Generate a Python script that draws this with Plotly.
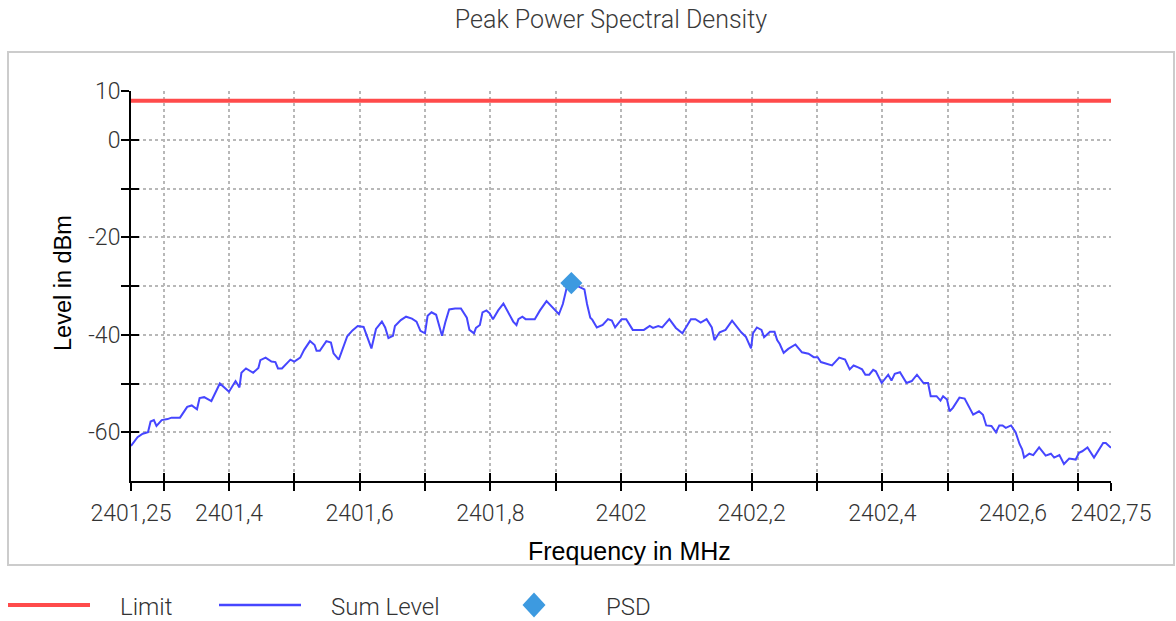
import plotly.graph_objects as go

# ---------------- data ----------------
sum_freq_mhz = [
    2401.250, 2401.260, 2401.268, 2401.276, 2401.280, 2401.285, 2401.289, 2401.297, 2401.306, 2401.312,
    2401.325, 2401.336, 2401.343, 2401.351, 2401.355, 2401.362, 2401.373, 2401.386, 2401.400, 2401.410,
    2401.416, 2401.419, 2401.426, 2401.437, 2401.445, 2401.448, 2401.456, 2401.465, 2401.471, 2401.475,
    2401.481, 2401.494, 2401.500, 2401.509, 2401.515, 2401.524, 2401.531, 2401.534, 2401.539, 2401.549,
    2401.556, 2401.560, 2401.568, 2401.575, 2401.581, 2401.589, 2401.597, 2401.606, 2401.611, 2401.618,
    2401.625, 2401.634, 2401.639, 2401.644, 2401.651, 2401.654, 2401.663, 2401.671, 2401.680, 2401.687,
    2401.693, 2401.700, 2401.704, 2401.710, 2401.717, 2401.726, 2401.731, 2401.737, 2401.746, 2401.755,
    2401.764, 2401.768, 2401.775, 2401.778, 2401.784, 2401.788, 2401.794, 2401.799, 2401.804, 2401.812,
    2401.820, 2401.829, 2401.835, 2401.840, 2401.843, 2401.849, 2401.854, 2401.868, 2401.876, 2401.886,
    2401.896, 2401.905, 2401.911, 2401.917, 2401.924, 2401.937, 2401.944, 2401.948, 2401.953, 2401.956,
    2401.963, 2401.972, 2401.980, 2401.986, 2401.991, 2402.001, 2402.008, 2402.018, 2402.035, 2402.044,
    2402.049, 2402.057, 2402.063, 2402.074, 2402.084, 2402.094, 2402.107, 2402.114, 2402.122, 2402.131,
    2402.139, 2402.143, 2402.151, 2402.160, 2402.170, 2402.184, 2402.191, 2402.199, 2402.202, 2402.208,
    2402.215, 2402.219, 2402.228, 2402.235, 2402.239, 2402.243, 2402.249, 2402.256, 2402.267, 2402.277,
    2402.287, 2402.295, 2402.301, 2402.306, 2402.323, 2402.334, 2402.343, 2402.350, 2402.356, 2402.363,
    2402.369, 2402.374, 2402.380, 2402.386, 2402.390, 2402.399, 2402.409, 2402.414, 2402.419, 2402.427,
    2402.437, 2402.445, 2402.453, 2402.463, 2402.470, 2402.474, 2402.483, 2402.489, 2402.493, 2402.499,
    2402.503, 2402.508, 2402.518, 2402.526, 2402.531, 2402.539, 2402.548, 2402.554, 2402.559, 2402.567,
    2402.574, 2402.579, 2402.584, 2402.589, 2402.597, 2402.604, 2402.610, 2402.614, 2402.617, 2402.625,
    2402.631, 2402.640, 2402.650, 2402.658, 2402.663, 2402.671, 2402.678, 2402.686, 2402.696, 2402.701,
    2402.706, 2402.714, 2402.724, 2402.731, 2402.738, 2402.742, 2402.750,
]
sum_level_dbm = [
    -62.8, -61.0, -60.3, -60.0, -57.8, -57.5, -58.7, -57.5, -57.3, -57.0,
    -57.0, -54.8, -54.5, -55.3, -53.0, -52.8, -53.6, -50.0, -51.7, -49.5,
    -50.8, -47.8, -46.9, -47.8, -46.8, -45.2, -44.7, -45.5, -45.6, -46.9,
    -46.9, -45.1, -45.5, -44.7, -43.1, -41.3, -42.1, -43.3, -43.3, -41.3,
    -41.6, -43.8, -45.1, -42.5, -40.3, -39.1, -38.2, -38.4, -40.2, -42.8,
    -38.8, -37.3, -38.5, -40.7, -40.2, -38.2, -37.0, -36.3, -36.7, -37.3,
    -39.2, -39.7, -36.1, -35.4, -35.9, -40.2, -37.5, -34.8, -34.6, -34.6,
    -36.5, -39.0, -39.7, -38.6, -38.0, -35.4, -35.0, -35.6, -36.8, -35.0,
    -33.6, -36.0, -37.3, -38.0, -36.8, -36.3, -36.8, -36.8, -35.0, -33.1,
    -34.6, -35.8, -33.7, -30.3, -29.4, -30.2, -30.7, -33.7, -36.5, -36.9,
    -38.5, -38.0, -36.8, -37.1, -38.5, -36.8, -36.8, -39.0, -39.0, -38.2,
    -38.6, -38.2, -38.5, -36.8, -38.6, -39.7, -36.8, -36.8, -37.5, -36.8,
    -38.5, -41.1, -39.5, -39.0, -37.1, -39.5, -40.4, -42.8, -39.7, -38.5,
    -39.0, -40.5, -39.4, -39.4, -41.1, -41.9, -43.7, -42.9, -42.0, -43.6,
    -43.9, -44.6, -44.6, -45.6, -46.3, -44.7, -45.1, -47.1, -46.3, -46.7,
    -47.1, -48.2, -48.2, -47.2, -47.5, -49.9, -48.2, -49.4, -48.0, -47.7,
    -49.9, -49.5, -48.2, -49.9, -49.9, -52.6, -52.6, -53.5, -52.6, -53.3,
    -55.7, -55.0, -52.9, -53.1, -54.3, -56.4, -55.7, -56.4, -58.6, -58.7,
    -60.0, -58.6, -58.6, -59.1, -58.6, -60.0, -62.4, -63.5, -65.2, -64.4,
    -64.7, -63.1, -64.8, -64.4, -65.2, -64.7, -66.5, -65.4, -65.6, -64.2,
    -63.9, -63.1, -65.2, -63.7, -62.2, -62.2, -63.2,
]
limit_freq_mhz = [2401.25, 2402.75]
limit_level_dbm = [8.0, 8.0]
psd_freq_mhz = [2401.924]
psd_level_dbm = [-29.4]

x_tickvals = [2401.25, 2401.3, 2401.4, 2401.5, 2401.6, 2401.7, 2401.8, 2401.9, 2402.0,
              2402.1, 2402.2, 2402.3, 2402.4, 2402.5, 2402.6, 2402.7, 2402.75]
x_ticktext = ["2401,25", "", "2401,4", "", "2401,6", "", "2401,8", "", "2402",
              "", "2402,2", "", "2402,4", "", "2402,6", "", "2402,75"]
y_tickvals = [-60, -50, -40, -30, -20, -10, 0, 10]
y_ticktext = ["-60", "", "-40", "", "-20", "", "0", "10"]
x_range = [2401.25, 2402.75]
y_range = [-70, 10]

# ---------------- layout geometry ----------------
W, H = 1176, 621
L, R, T, B = 131, 1111, 91, 481


def px(x):
    return (x - L) / (R - L)


def py(y):
    return (B - y) / (B - T)


RED = "#FF4B4B"
BLUE = "#4646FF"
DIAMOND = "#3D9AE0"
LIGHT = dict(family="Roboto", weight=300, size=23, color="#333333")
LEGEND_FONT = dict(family="Roboto", weight=300, size=24, color="#333333")

fig = go.Figure()

fig.add_trace(go.Scatter(
    x=sum_freq_mhz, y=sum_level_dbm, mode="lines", name="Sum Level",
    line=dict(color=BLUE, width=2), xaxis="x", yaxis="y"))
fig.add_trace(go.Scatter(
    x=psd_freq_mhz, y=psd_level_dbm, mode="markers", name="PSD",
    marker=dict(symbol="diamond", size=17, color=DIAMOND, line=dict(width=0)),
    xaxis="x", yaxis="y"))
fig.add_trace(go.Scatter(
    x=limit_freq_mhz, y=limit_level_dbm, mode="lines", name="Limit",
    line=dict(color=RED, width=4), xaxis="x2", yaxis="y2"))

axis_common = dict(showline=True, linecolor="black", linewidth=2,
                   ticks="outside", ticklen=8, tickwidth=2, tickcolor="black",
                   zeroline=False, showgrid=True, gridcolor="#b8b8b8",
                   gridwidth=2, griddash="dot", tickfont=LIGHT)

fig.update_layout(
    width=W, height=H,
    margin=dict(l=L, r=W - R, t=T, b=H - B, pad=0),
    paper_bgcolor="white", plot_bgcolor="white",
    showlegend=False,
    title=dict(text="Peak Power Spectral Density",
               font=dict(family="Roboto", weight=300, size=25, color="#3a3a3a"),
               x=611 / W, xref="container", xanchor="center",
               y=1 - 19 / H, yref="container", yanchor="middle"),
    xaxis=dict(range=x_range, tickmode="array", tickvals=x_tickvals, ticktext=x_ticktext,
               ticklabelstandoff=2, **axis_common),
    yaxis=dict(range=y_range, tickmode="array", tickvals=y_tickvals, ticktext=y_ticktext,
               ticklabelstandoff=-4, **axis_common),
    xaxis2=dict(range=x_range, overlaying="x", anchor="y2", side="bottom",
                tickmode="array", tickvals=x_tickvals, showticklabels=False,
                ticks="inside", ticklen=8, tickwidth=2, tickcolor="black",
                showgrid=False, zeroline=False, showline=False),
    yaxis2=dict(range=y_range, overlaying="y", anchor="x2", side="left",
                tickmode="array", tickvals=y_tickvals, showticklabels=False,
                ticks="inside", ticklen=8, tickwidth=2, tickcolor="black",
                showgrid=False, zeroline=False, showline=False),
)

shapes = [
    # outer frame
    dict(type="rect", xref="paper", yref="paper",
         x0=px(8), x1=px(1174), y0=py(565), y1=py(52),
         line=dict(color="#cccccc", width=2), layer="below"),
    # legend samples
    dict(type="line", xref="paper", yref="paper",
         x0=px(8), x1=px(90), y0=py(605), y1=py(605),
         line=dict(color=RED, width=4)),
    dict(type="line", xref="paper", yref="paper",
         x0=px(219), x1=px(301), y0=py(605), y1=py(605),
         line=dict(color=BLUE, width=2.5)),
    dict(type="path", xref="paper", yref="paper",
         xsizemode="pixel", ysizemode="pixel",
         xanchor=px(534), yanchor=py(605),
         path="M 0 12.5 L 11.5 0 L 0 -12.5 L -11.5 0 Z",
         fillcolor=DIAMOND, line=dict(width=0)),
]

annotations = [
    dict(text="Limit", x=px(118), y=py(607), xanchor="left", yanchor="middle"),
    dict(text="Sum Level", x=px(329), y=py(607), xanchor="left", yanchor="middle"),
    dict(text="PSD", x=px(604), y=py(607), xanchor="left", yanchor="middle"),
]
annotations = [dict(a, xref="paper", yref="paper", showarrow=False, font=LEGEND_FONT)
               for a in annotations]
annotations += [
    dict(text="Frequency in MHz", x=px(629), y=py(551), xref="paper", yref="paper",
         xanchor="center", yanchor="middle", showarrow=False,
         font=dict(family="Liberation Sans, Arial", size=25, color="black")),
    dict(text="Level in dBm", x=px(63), y=py(283), xref="paper", yref="paper",
         xanchor="center", yanchor="middle", showarrow=False, textangle=-90,
         font=dict(family="Liberation Sans, Arial", size=23.5, color="black")),
]

fig.update_layout(shapes=shapes, annotations=annotations)

fig.write_html("out.html",
               config={"displayModeBar": False},
               post_script="document.body.style.margin='0';document.body.style.overflow='hidden';")
